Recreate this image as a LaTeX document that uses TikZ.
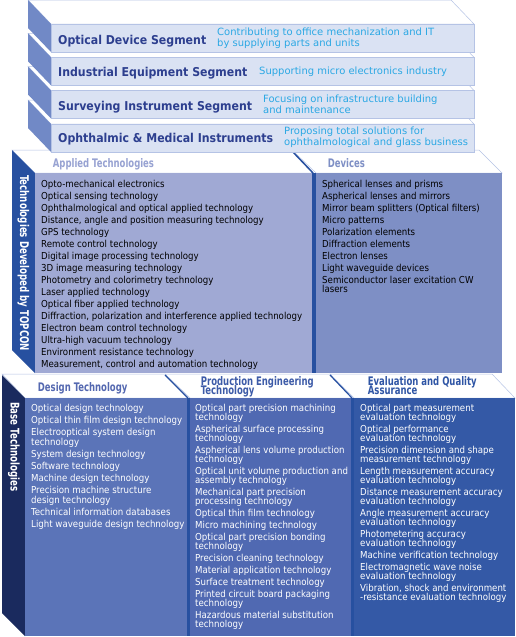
\documentclass[tikz,border=0pt]{standalone}
\usepackage{fontspec}
\setmainfont{DejaVu Sans}
\newfontfamily\condfont{DejaVu Sans Condensed}
\newfontfamily\headfont{DejaVu Sans Condensed}[FakeStretch=0.8]
\usetikzlibrary{positioning}
\newcommand\tightlines{\lineskiplimit=-20pt\relax}

\definecolor{edgeblue}{HTML}{B5C3E5}
\definecolor{segfront}{HTML}{DAE2F3}
\definecolor{segside}{HTML}{7189C6}
\definecolor{segtitle}{HTML}{2D3F8F}
\definecolor{segdesc}{HTML}{2BA8E4}
\definecolor{techside}{HTML}{2750A0}
\definecolor{appfill}{HTML}{A0A9D4}
\definecolor{devfill}{HTML}{7E8FC5}
\definecolor{apptitle}{HTML}{97A2D2}
\definecolor{baseside}{HTML}{1A2A5E}
\definecolor{desfill}{HTML}{5B74B8}
\definecolor{prodfill}{HTML}{5069B2}
\definecolor{evalfill}{HTML}{3459A6}
\definecolor{destitle}{HTML}{5468B0}
\definecolor{prodtitle}{HTML}{3D5BA8}
\definecolor{evaltitle}{HTML}{2F55A5}

\begin{document}
\begin{tikzpicture}[x=1pt,y=-1pt,
    topface/.style={fill=white,draw=edgeblue,line width=0.5pt},
    segtitle/.style={font=\condfont\bfseries\fontsize{12.2}{14}\selectfont,
      text=segtitle,anchor=base west,inner sep=0pt},
    segdesc/.style={font=\fontsize{10}{11}\selectfont\tightlines,
      text=segdesc,align=left,anchor=base west,inner sep=0pt},
    boxtitle/.style={font=\headfont\bfseries\fontsize{11.8}{9.3}\selectfont\tightlines,
      align=left,anchor=base west,inner sep=0pt},
    sidetitle/.style={font=\headfont\bfseries\fontsize{12}{12}\selectfont,
      text=white,rotate=-90,anchor=west,inner sep=0pt},
    itemlist/.style={font=\condfont\fontsize{9.6}{9}\selectfont\tightlines,
      align=left,anchor=base west,inner sep=0pt}]
  \useasboundingbox (0,0) rectangle (516,637);
  % (list nodes are placed at the baseline of their last line)

  % base technologies
  \draw[topface] (2,374) -- (165,374) -- (187,398) -- (25,398) -- cycle;
  \draw[topface] (165,374) -- (330,374) -- (352,398) -- (190,398) -- cycle;
  \draw[topface] (330,374) -- (492,374) -- (515,398) -- (354,398) -- cycle;
  \draw[techside,line width=1.2pt] (165,375) -- (188,398);
  \draw[techside,line width=1.2pt] (330,375) -- (352,398);
  \fill[baseside] (2,375) -- (25,398) -- (25,636) -- (2,613) -- cycle;
  \fill[desfill] (25,398) rectangle (187,636);
  \fill[techside] (187,398) rectangle (190,636);
  \fill[prodfill] (190,398) rectangle (351,636);
  \fill[techside] (351,398) rectangle (354,636);
  \fill[evalfill] (354,398) rectangle (515,636);

  \node[sidetitle] (base) at (13.8,402) {Base Technologies};
  \node[boxtitle,text=destitle] (design) at (37.7,391) {Design Technology};
  \node[boxtitle,text=prodtitle] (production) at (200.7,394.8)
    {Production Engineering\\Technology};
  \node[boxtitle,text=evaltitle] (evaluation) at (367.7,394.8)
    {Evaluation and Quality\\Assurance};

  \node[itemlist,text=white,font=\condfont\fontsize{9.6}{10}\selectfont\tightlines]
    (designlist) at (31,527) {Optical design technology\\[2pt]
    Optical thin film design technology\\[2pt]
    Electrooptical system design\\technology\\[2pt]
    System design technology\\[2pt]
    Software technology\\[2pt]
    Machine design technology\\[2pt]
    Precision machine structure\\design technology\\[2pt]
    Technical information databases\\[2pt]
    Light waveguide design technology};
  \node[itemlist,text=white] (productionlist) at (195,627)
    {Optical part precision machining\\technology\\[3pt]
    Aspherical surface processing\\technology\\[3pt]
    Aspherical lens volume production\\technology\\[3pt]
    Optical unit volume production and\\assembly technology\\[3pt]
    Mechanical part precision\\processing technology\\[3pt]
    Optical thin film technology\\[3pt]
    Micro machining technology\\[3pt]
    Optical part precision bonding\\technology\\[3pt]
    Precision cleaning technology\\[3pt]
    Material application technology\\[3pt]
    Surface treatment technology\\[3pt]
    Printed circuit board packaging\\technology\\[3pt]
    Hazardous material substitution\\technology};
  \node[itemlist,text=white] (evaluationlist) at (360,600)
    {Optical part measurement\\evaluation technology\\[3pt]
    Optical performance\\evaluation technology\\[3pt]
    Precision dimension and shape\\measurement technology\\[3pt]
    Length measurement accuracy\\evaluation technology\\[3pt]
    Distance measurement accuracy\\evaluation technology\\[3pt]
    Angle measurement accuracy\\evaluation technology\\[3pt]
    Photometering accuracy\\evaluation technology\\[3pt]
    Machine verification technology\\[3pt]
    Electromagnetic wave noise\\evaluation technology\\[3pt]
    Vibration, shock and environment\\-resistance evaluation technology};

  % technologies developed by TOPCON
  \draw[topface] (12,150) -- (292,150) -- (313,173) -- (35,173) -- cycle;
  \draw[topface] (292,150) -- (479,150) -- (502,173) -- (316,173) -- cycle;
  \draw[techside,line width=1.5pt] (292,151) -- (313,173);
  \fill[techside] (12,150) -- (35,173) -- (35,373) -- (12,350) -- cycle;
  \fill[appfill] (35,173) rectangle (312,373);
  \fill[techside] (312,173) rectangle (316,373);
  \fill[devfill] (316,173) rectangle (502,373);

  \node[sidetitle] (topcon) at (23.5,175) {Technologies Developed by TOPCON};
  \node[boxtitle,text=apptitle] (applied) at (52.7,167) {Applied Technologies};
  \node[boxtitle,text=devfill] (devices) at (327.7,167) {Devices};

  \node[itemlist] (appliedlist) at (41,367) {Opto-mechanical electronics\\[3pt]
    Optical sensing technology\\[3pt]
    Ophthalmological and optical applied technology\\[3pt]
    Distance, angle and position measuring technology\\[3pt]
    GPS technology\\[3pt]
    Remote control technology\\[3pt]
    Digital image processing technology\\[3pt]
    3D image measuring technology\\[3pt]
    Photometry and colorimetry technology\\[3pt]
    Laser applied technology\\[3pt]
    Optical fiber applied technology\\[3pt]
    Diffraction, polarization and interference applied technology\\[3pt]
    Electron beam control technology\\[3pt]
    Ultra-high vacuum technology\\[3pt]
    Environment resistance technology\\[3pt]
    Measurement, control and automation technology};
  \node[itemlist] (deviceslist) at (322,292) {Spherical lenses and prisms\\[3pt]
    Aspherical lenses and mirrors\\[3pt]
    Mirror beam splitters (Optical filters)\\[3pt]
    Micro patterns\\[3pt]
    Polarization elements\\[3pt]
    Diffraction elements\\[3pt]
    Electron lenses\\[3pt]
    Light waveguide devices\\[3pt]
    Semiconductor laser excitation CW\\lasers};

  % business segments
  \foreach \t in {124,90.5,57.3,24}{
    \draw[topface] (28,\t-24) -- (451,\t-24) -- (474,\t) -- (51,\t) -- cycle;
    \fill[segside] (28,\t-24) -- (51,\t) -- (51,\t+28) -- (28,\t+4) -- cycle;
    \draw[fill=segfront,draw=edgeblue,line width=0.5pt] (51,\t) rectangle (474,\t+28);
  }
  \node[segtitle] (optical) at (58,44) {Optical Device Segment};
  \node[segdesc] (opticaltext) at (217,46.5)
    {Contributing to office mechanization and IT\\by supplying parts and units};
  \node[segdesc] (industrialtext) at (259,74) {Supporting micro electronics industry};
  \node[segtitle] (industrial) at (58,76) {Industrial Equipment Segment};
  \node[segtitle] (surveying) at (58,110) {Surveying Instrument Segment};
  \node[segdesc] (surveyingtext) at (263,113)
    {Focusing on infrastructure building\\and maintenance};
  \node[segtitle] (ophthalmic) at (58,142) {Ophthalmic \& Medical Instruments};
  \node[segdesc] (ophthalmictext) at (284,145)
    {Proposing total solutions for\\ophthalmological and glass business};
\end{tikzpicture}
\end{document}
